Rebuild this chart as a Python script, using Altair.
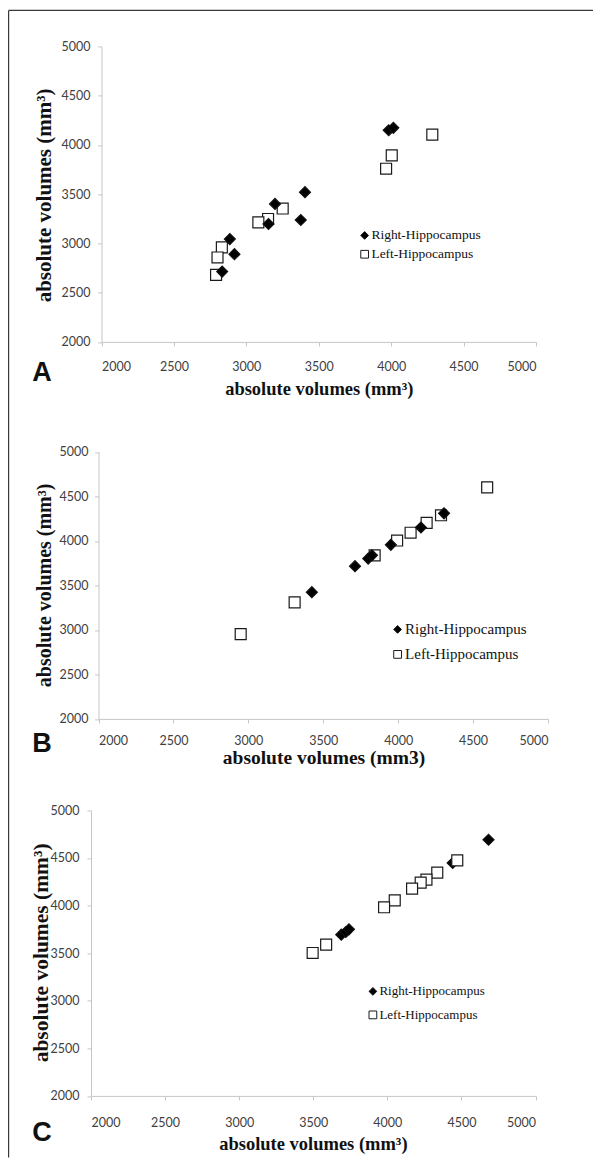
import altair as alt
import pandas as pd

SERIES = ["Right-Hippocampus", "Left-Hippocampus"]
TICKS = [2000, 2500, 3000, 3500, 4000, 4500, 5000]
LETTERS = ["A", "B", "C"]

# Panel A
a_right_x = [3983, 4015, 3405, 3198, 3153, 3376, 2886, 2918, 2833]
a_right_y = [4149, 4173, 3520, 3401, 3197, 3238, 3044, 2891, 2714]
a_left_x = [4284, 4004, 3965, 3251, 3150, 3083, 2831, 2801, 2791]
a_left_y = [4105, 3894, 3758, 3354, 3248, 3214, 2959, 2857, 2680]

# Panel B
b_right_x = [3424, 3712, 3800, 3825, 3951, 4152, 4306]
b_right_y = [3424, 3716, 3801, 3838, 3956, 4151, 4310]
b_left_x = [4594, 4286, 4190, 4083, 3993, 3843, 3309, 2949]
b_left_y = [4601, 4288, 4203, 4092, 4004, 3838, 3310, 2952]

# Panel C
c_right_x = [4683, 4441, 3689, 3720, 3741]
c_right_y = [4692, 4447, 3694, 3722, 3750]
c_left_x = [4472, 4337, 4264, 4225, 4167, 4050, 3978, 3587, 3496]
c_left_y = [4475, 4346, 4272, 4241, 4178, 4055, 3982, 3589, 3502]

TITLE_SUP = "absolute volumes (mm\u00b3)"
TITLE_PLAIN = "absolute volumes (mm3)"


def frame(rx, ry, lx, ly, right_first):
    r = pd.DataFrame({"x": rx, "y": ry, "series": SERIES[0]})
    l = pd.DataFrame({"x": lx, "y": ly, "series": SERIES[1]})
    parts = [r, l] if right_first else [l, r]
    return pd.concat(parts, ignore_index=True)


def panel(df, letter, g):
    leg = alt.Legend(
        title=None, orient="none", legendX=g["lx"], legendY=g["ly"], padding=0,
        symbolSize=60, labelOffset=0, rowPadding=g["rowpad"],
        labelFont="Liberation Serif", labelFontSize=g["lfs"], labelColor="#111111",
        symbolStrokeWidth=1,
    )
    pts = alt.Chart(df).mark_point(
        filled=True, strokeWidth=1.2, size=120, opacity=1
    ).encode(
        x=alt.X("x:Q",
                scale=alt.Scale(domain=[2000, 5000], range=g["xr"], nice=False, zero=False),
                axis=alt.Axis(values=TICKS, format="d", title=g["xt"], tickSize=4,
                              labelPadding=g["xlp"], titleFontSize=g["xtfs"],
                              titleX=g["xtx"], titleY=g["xty"], titleAngle=0,
                              titleAlign="center", titleBaseline="middle")),
        y=alt.Y("y:Q",
                scale=alt.Scale(domain=[2000, 5000], range=g["yr"], nice=False, zero=False),
                axis=alt.Axis(values=TICKS, format="d", title=TITLE_SUP, tickSize=4,
                              labelPadding=g["ylp"], offset=g["yoff"],
                              titleFontSize=g["ytfs"], titleX=g["ytx"], titleY=g["yty"],
                              titleAngle=270, titleAlign="center", titleBaseline="middle")),
        shape=alt.Shape("series:N", scale=alt.Scale(domain=SERIES, range=["diamond", "square"]), legend=leg),
        fill=alt.Fill("series:N", scale=alt.Scale(domain=SERIES, range=["#000000", "#ffffff"]), legend=leg),
        stroke=alt.Stroke("series:N", scale=alt.Scale(domain=SERIES, range=["#111111", "#1a1a1a"]), legend=leg),
    )
    lab = alt.Chart(pd.DataFrame({"letter": [letter]})).mark_text(
        font="Liberation Sans", fontWeight="bold", fontSize=27, align="center",
        baseline="alphabetic", color="#111111"
    ).encode(text="letter:N", x=alt.value(-49), y=alt.value(g["lety"]))
    layers = [pts, lab]
    if g.get("border"):
        bd = pd.DataFrame({"k": [1]})
        top = alt.Chart(bd).mark_rule(color="#3a3a3a", strokeWidth=1.2).encode(
            x=alt.value(-82.4), x2=alt.value(502), y=alt.value(-36))
        left = alt.Chart(bd).mark_rule(color="#3a3a3a", strokeWidth=1.2).encode(
            x=alt.value(-82.4), y=alt.value(-36), y2=alt.value(1111))
        layers += [top, left]
    return alt.layer(*layers).properties(width=g["w"], height=g["h"])


gA = dict(xr=[10.5, 445], w=445, h=295.5, yr=[295.5, 0], yoff=-10.5,
          xt=TITLE_SUP, xtfs=18.5, xtx=227.8, xty=46.5, xlp=14.5,
          ytfs=21, ytx=-57.5, yty=148.5, ylp=7.5,
          lx=266.9, ly=182.3, lfs=13.5, rowpad=3.8, lety=335, border=True)
gB = dict(xr=[7.5, 457], w=457, h=296.5, yr=[296.5, 29.5], yoff=-7.5,
          xt=TITLE_PLAIN, xtfs=19.5, xtx=232.5, xty=38.7, xlp=12,
          ytfs=20, ytx=-54.5, yty=162.5, ylp=6.5,
          lx=299.1, ly=199.5, lfs=15, rowpad=9, lety=330)
gC = dict(xr=[0, 444.5], w=444.5, h=296.5, yr=[296.5, 11], yoff=0,
          xt=TITLE_SUP, xtfs=18.5, xtx=221.9, xty=47.2, xlp=16.5,
          ytfs=21.5, ytx=-50, yty=153, ylp=8,
          lx=275.4, ly=185.5, lfs=13, rowpad=9.5, lety=341.5)

pA = panel(frame(a_right_x, a_right_y, a_left_x, a_left_y, False), LETTERS[0], gA)
pB = panel(frame(b_right_x, b_right_y, b_left_x, b_left_y, False), LETTERS[1], gB)
pC = panel(frame(c_right_x, c_right_y, c_left_x, c_left_y, True), LETTERS[2], gC)

chart = alt.vconcat(pA, pB, pC, spacing=80, bounds="flush").resolve_scale(
    shape="independent", fill="independent", stroke="independent"
).resolve_legend(
    shape="independent", fill="independent", stroke="independent"
).properties(
    padding={"top": 1.4, "left": 0, "right": 0, "bottom": 0}
).configure_axis(
    labelFont="Lato", labelFontSize=12.5, labelColor="#404040",
    domainColor="#c6c6c6", tickColor="#c6c6c6", grid=False,
    titleFont="Liberation Serif", titleFontWeight="bold", titleColor="#111111",
).configure_view(strokeWidth=0)

chart.save("out.html", embed_options={"renderer": "svg", "actions": False})
